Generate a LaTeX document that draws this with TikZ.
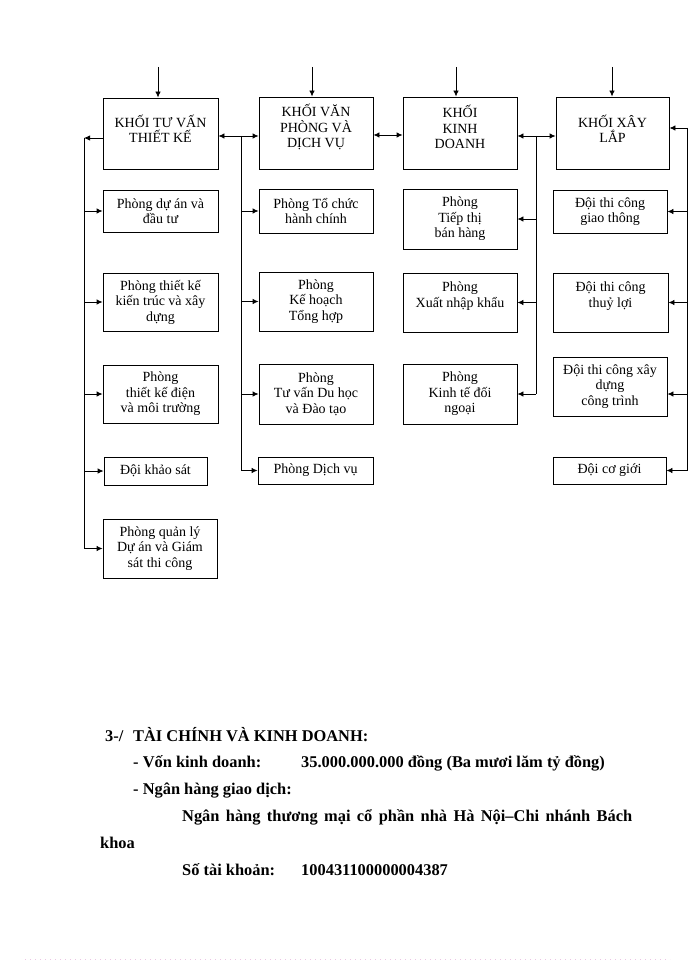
\documentclass[tikz,border=0pt]{standalone}
\usepackage{fontspec}
\setmainfont{Liberation Serif}
\usetikzlibrary{arrows.meta}
\definecolor{dotpink}{RGB}{236,196,228}
\begin{document}
\begin{tikzpicture}[x=1pt,y=-1pt,
  box/.style={draw, line width=0.85pt, inner sep=0pt, align=center,
    font=\fontsize{14}{15.5}\selectfont},
  boxtext/.style={inner sep=0pt, align=center, font=\fontsize{14}{15.5}\selectfont},
  arr/.style={-{Latex[length=6pt,width=5.5pt]}, line width=0.85pt},
  darr/.style={{Latex[length=6pt,width=5.5pt]}-{Latex[length=6pt,width=5.5pt]}, line width=0.85pt},
  ln/.style={line width=0.85pt},
  bt/.style={anchor=base west, inner sep=0pt, font=\fontsize{16.4}{19}\selectfont\bfseries}]
\useasboundingbox (0,0) rectangle (700,960);
\fill[white] (0,0) rectangle (700,960);

% top boxes
\node[box, minimum width=115, minimum height=71] (k1) at (160.5,133.5) {};
\node[box, minimum width=114, minimum height=72] (k2) at (316,133) {};
\node[box, minimum width=114, minimum height=72] (k3) at (460,133) {};
\node[box, minimum width=113, minimum height=72] (k4) at (612.5,133) {};
\node[boxtext] (k1t) at (160.5,129) {KHỐI TƯ VẤN\\THIẾT KẾ};
\node[boxtext] (k2t) at (316,127) {KHỐI VĂN\\PHÒNG VÀ\\DỊCH VỤ};
\node[boxtext] (k3t) at (460,127) {KHỐI\\KINH\\DOANH};
\node[boxtext] (k4t) at (612.5,129) {KHỐI XÂY\\LẮP};

% column 1
\node[box, minimum width=115, minimum height=42] (a1) at (160.5,211) {Phòng dự án và\\đầu tư};
\node[box, minimum width=115, minimum height=58] (a2) at (160.5,302) {Phòng thiết kế\\kiến trúc và xây\\dựng};
\node[box, minimum width=115, minimum height=58] (a3) at (160.5,394) {Phòng\\thiết kế điện\\và môi trường};
\node[box, minimum width=103, minimum height=28] (a4) at (155.5,471) {Đội khảo sát};
\node[box, minimum width=114, minimum height=59] (a5) at (160,548.5) {Phòng quản lý\\Dự án và Giám\\sát thi công};

% column 2
\node[box, minimum width=114, minimum height=44] (b1) at (316,211) {Phòng Tổ chức\\hành chính};
\node[box, minimum width=114, minimum height=59] (b2) at (316,301.5) {Phòng\\Kế hoạch\\Tổng hợp};
\node[box, minimum width=114, minimum height=60] (b3) at (316,394) {Phòng\\Tư vấn Du học\\và Đào tạo};
\node[box, minimum width=115, minimum height=27] (b4) at (315.5,470.5) {Phòng Dịch vụ};

% column 3
\node[box, minimum width=114, minimum height=60] (c1) at (460,219) {Phòng\\Tiếp thị\\bán hàng};
\node[box, minimum width=114, minimum height=59] (c2) at (460,302.5) {Phòng\\Xuất nhập khẩu\\\mbox{}};
\node[box, minimum width=114, minimum height=60] (c3) at (460,394) {Phòng\\Kinh tế đối\\ngoại};

% column 4
\node[box, minimum width=114, minimum height=43] (d1) at (610,211.5) {Đội thi công\\giao thông};
\node[box, minimum width=115, minimum height=59] (d2) at (610.5,302.5) {Đội thi công\\thuỷ lợi\\\mbox{}};
\node[box, minimum width=114, minimum height=59] (d3) at (610,386.5) {Đội thi công xây\\dựng\\công trình};
\node[box, minimum width=113, minimum height=27] (d4) at (609.5,470.5) {Đội cơ giới};

% incoming top arrows
\coordinate (t1) at (158,67);
\coordinate (t2) at (312,67);
\coordinate (t3) at (456,67);
\coordinate (t4) at (612,67);
\draw[arr] (t1) -- (t1 |- k1.north);
\draw[arr] (t2) -- (t2 |- k2.north);
\draw[arr] (t3) -- (t3 |- k3.north);
\draw[arr] (t4) -- (t4 |- k4.north);

% left bus
\coordinate (L0) at (84,138);
\draw[arr] (k1.west |- L0) -- (L0);
\draw[ln] (L0) -- (L0 |- a5.west);
\draw[arr] (L0 |- a1.west) -- (a1.west);
\draw[arr] (L0 |- a2.west) -- (a2.west);
\draw[arr] (L0 |- a3.west) -- (a3.west);
\draw[arr] (L0 |- a4.west) -- (a4.west);
\draw[arr] (L0 |- a5.west) -- (a5.west);

% bus between k1 and k2
\coordinate (M1) at (241,136);
\draw[darr] (k1.east |- M1) -- (k2.west |- M1);
\draw[ln] (M1) -- (M1 |- b4.west);
\draw[arr] (M1 |- b1.west) -- (b1.west);
\draw[arr] (M1 |- b2.west) -- (b2.west);
\draw[arr] (M1 |- b3.west) -- (b3.west);
\draw[arr] (M1 |- b4.west) -- (b4.west);

% k2 - k3
\coordinate (M2) at (388,135);
\draw[darr] (k2.east |- M2) -- (k3.west |- M2);

% bus between k3 and k4
\coordinate (M3) at (536,136);
\draw[darr] (k3.east |- M3) -- (k4.west |- M3);
\draw[ln] (M3) -- (M3 |- c3.east);
\draw[arr] (M3 |- c1.east) -- (c1.east);
\draw[arr] (M3 |- c2.east) -- (c2.east);
\draw[arr] (M3 |- c3.east) -- (c3.east);

% right bus
\coordinate (R0) at (687,128);
\coordinate (R3) at (687,394);
\draw[arr] (R0) -- (k4.east |- R0);
\draw[ln] (R0) -- (R0 |- d4.east);
\draw[arr] (R0 |- d1.east) -- (d1.east);
\draw[arr] (R0 |- d2.east) -- (d2.east);
\draw[arr] (R3) -- (d3.east |- R3);
\draw[arr] (R0 |- d4.east) -- (d4.east);

% bottom text
\node[bt] (s0) at (105,741) {3-/};
\node[bt] (s0b) at (133,741) {TÀI CHÍNH VÀ KINH DOANH:};
\node[bt] (s1) at (133,767.8) {- Vốn kinh doanh:};
\node[bt] (s1b) at (301,767.8) {35.000.000.000 đồng (Ba mươi lăm tỷ đồng)};
\node[bt] (s2) at (133,794.6) {- Ngân hàng giao dịch:};
\node[bt] (s3) at (182,821.4) {\makebox[450pt][s]{Ngân hàng thương mại cổ phần nhà Hà Nội–Chi nhánh Bách}};
\node[bt] (s4) at (100,848.2) {khoa};
\node[bt] (s5) at (182,875) {Số tài khoản:};
\node[bt] (s5b) at (301,875) {100431100000004387};

% faint dotted rule at the bottom
\draw[dotpink, line width=1pt, dash pattern=on 1pt off 4pt] (25,959) -- (670,959);
\end{tikzpicture}
\end{document}
